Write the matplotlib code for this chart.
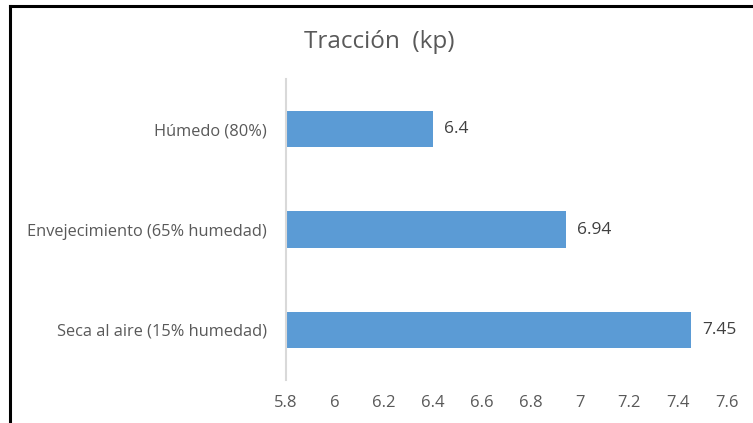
import matplotlib
matplotlib.use("Agg")
import matplotlib.pyplot as plt
from matplotlib.lines import Line2D

categories = ["Húmedo (80%)", "Envejecimiento (65% humedad)", "Seca al aire (15% humedad)"]
values = [6.4, 6.94, 7.45]
xticks = [5.8, 6.0, 6.2, 6.4, 6.6, 6.8, 7.0, 7.2, 7.4, 7.6]
xtick_labels = ["5.8", "6", "6.2", "6.4", "6.6", "6.8", "7", "7.2", "7.4", "7.6"]
title = "Tracción  (kp)"

plt.rcParams["font.family"] = ["Open Sans", "DejaVu Sans"]

W, H = 753, 423
fig = plt.figure(figsize=(W / 100, H / 100), dpi=100)
fig.patch.set_facecolor("white")

ax = fig.add_axes([286 / W, 1 - 380 / H, (727.4 - 286) / W, (380 - 79) / H])
ypos = list(range(len(categories)))
ax.barh(ypos, [v - xticks[0] for v in values], left=xticks[0], height=0.36,
        color="#5B9BD5", edgecolor="none")

ax.set_xlim(xticks[0], xticks[-1])
ax.set_ylim(len(categories) - 0.5, -0.5)
ax.set_xticks(xticks)
ax.set_xticklabels(xtick_labels)
ax.set_yticks(ypos)
ax.set_yticklabels(categories)
ax.tick_params(axis="both", length=0, colors="#595959")
ax.tick_params(axis="x", pad=11, labelsize=12)
ax.tick_params(axis="y", pad=14, labelsize=11.8)

for s in ["top", "right", "bottom"]:
    ax.spines[s].set_visible(False)
ax.spines["left"].set_color("#D9D9D9")
ax.spines["left"].set_linewidth(1.5)

for y, v in zip(ypos, values):
    ax.text(v + 0.046, y, f"{v:g}", va="center", ha="left", fontsize=12.5, color="#404040")

fig.text(379 / W, 1 - 42 / H, title, ha="center", va="center", fontsize=17.5, color="#595959")

# frame around the chart area
fig.add_artist(Line2D([9.5 / W, 9.5 / W], [0, 1 - 6 / H], transform=fig.transFigure,
                      color="black", linewidth=2.2))
fig.add_artist(Line2D([9.5 / W, 1], [1 - 6.5 / H, 1 - 6.5 / H], transform=fig.transFigure,
                      color="black", linewidth=2.2))

fig.savefig("out.png", dpi=100)
